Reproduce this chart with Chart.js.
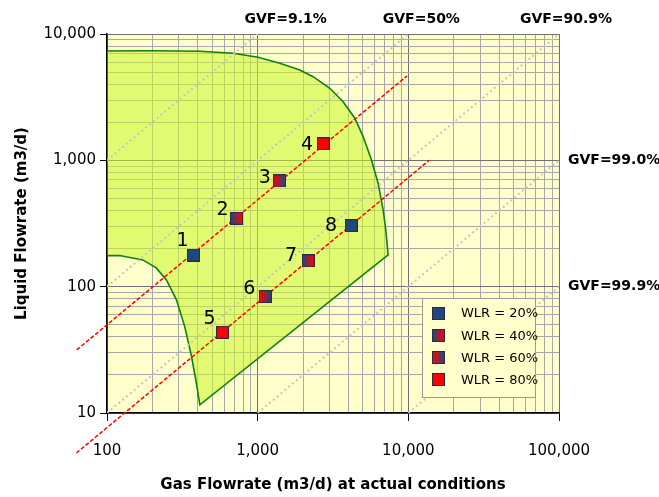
<!DOCTYPE html>
<html>
<head>
<meta charset="utf-8">
<script src="https://cdn.jsdelivr.net/npm/chart.js@4.4.1/dist/chart.umd.min.js"></script>
<style>
    body { margin: 0; background: #ffffff; }
    #wrap { width: 659px; height: 497px; }
</style>
</head>
<body>
<div id="wrap"><canvas id="chart-flowmap" width="659" height="497"></canvas></div>
<script>
// Test points (gas vs liquid flowrate, m3/d) and their water-liquid ratio
const pointIds = ['1', '2', '3', '4', '5', '6', '7', '8'];
const gasFlow = [375, 725, 1400, 2720, 585, 1125, 2160, 4170];
const liquidFlow = [178, 348, 687, 1350, 43.5, 83.5, 160, 304];
const pointWlr = [20, 40, 60, 80, 80, 60, 40, 20];

const wlrLevels = [20, 40, 60, 80];
const wlrLabels = ['WLR = 20%', 'WLR = 40%', 'WLR = 60%', 'WLR = 80%'];

// Operating envelope outline
const envelopeGas = [100, 100, 202, 413, 687, 1006, 1402, 1904, 2333, 3012, 3692, 4415, 5012, 5695,
    6302, 6804, 7090, 7344, 413, 392, 364, 328, 289, 248, 213, 173, 121, 100];
const envelopeLiquid = [176, 7339, 7378, 7297, 7036, 6542, 5862, 5191, 4594, 3719, 2913, 2154, 1540, 1007,
    659, 405, 281, 178.5, 11.6, 17.2, 28.0, 48.3, 78.6, 113.2, 140.1, 162.9, 176.2, 176];

// Red dashed lines through the two test series
const trendAGas = [63, 9780];
const trendALiquid = [31.6, 4650];
const trendBGas = [62.6, 13740];
const trendBLiquid = [4.82, 1000];

// Constant GVF lines (start / end points)
const gvfLabels = ['GVF=9.1%', 'GVF=50%', 'GVF=90.9%', 'GVF=99.0%', 'GVF=99.9%'];
const gvfStartGas = [100, 100, 100, 1000, 10000];
const gvfStartLiquid = [1000, 100, 10, 10, 10];
const gvfEndGas = [1000, 10000, 100000, 100000, 100000];
const gvfEndLiquid = [10000, 10000, 10000, 1000, 100];

// Axis ticks
const xMajorTicks = [100, 1000, 10000, 100000];
const xTickLabels = ['100', '1,000', '10,000', '100,000'];
const yMajorTicks = [10, 100, 1000, 10000];
const yTickLabels = ['10', '100', '1,000', '10,000'];

const FONT = "'DejaVu Sans', sans-serif";
const NAVY = '#1f497d';
const RED = '#ff0000';

// label placement relative to each marker (px)
const labelShift = [[-11, -14], [-14, -8], [-15, -3], [-16, 1], [-13, -13], [-16, -7], [-17, -5], [-20, 0]];
// GVF label anchors: which edge and offset (px)
const gvfLabelPlace = [
    { edge: 'top', dx: 28, dy: -15 },
    { edge: 'top', dx: 13, dy: -15 },
    { edge: 'top', dx: 7, dy: -15 },
    { edge: 'right', dx: 9, dy: 0 },
    { edge: 'right', dx: 9, dy: 0 }
];

function makeMarker(left, right) {
    const c = document.createElement('canvas');
    c.width = 13;
    c.height = 13;
    const g = c.getContext('2d');
    const grad = g.createLinearGradient(1, 0, 12, 0);
    grad.addColorStop(0, left);
    grad.addColorStop(1, right);
    g.fillStyle = grad;
    g.fillRect(0.5, 0.5, 12, 12);
    g.strokeStyle = '#2a2a40';
    g.lineWidth = 1;
    g.strokeRect(0.5, 0.5, 12, 12);
    return c;
}

const markers = {
    20: makeMarker(NAVY, NAVY),
    40: makeMarker(NAVY, RED),
    60: makeMarker(RED, NAVY),
    80: makeMarker(RED, RED)
};

function decadeTicks(majors) {
    const out = [];
    for (let i = 0; i < majors.length; i++) {
        out.push({ value: majors[i] });
        if (i < majors.length - 1) {
            for (let m = 2; m <= 9; m++) out.push({ value: majors[i] * m });
        }
    }
    return out;
}

function toXY(xs, ys) {
    return xs.map((x, i) => ({ x: x, y: ys[i] }));
}

const gvfDatasets = gvfLabels.map((lbl, i) => ({
    label: lbl,
    data: [{ x: gvfStartGas[i], y: gvfStartLiquid[i] }, { x: gvfEndGas[i], y: gvfEndLiquid[i] }],
    borderColor: '#c4c4c4',
    borderWidth: 2,
    borderDash: [2, 3],
    pointRadius: 0,
    fill: false,
    order: 2
}));

const plotBackground = {
    id: 'plotBackground',
    beforeDraw(chart) {
        const { ctx, chartArea: a } = chart;
        ctx.save();
        ctx.fillStyle = '#ffffcc';
        ctx.fillRect(a.left, a.top, a.right - a.left, a.bottom - a.top);
        ctx.restore();
    }
};

const annotations = {
    id: 'annotations',
    afterDraw(chart) {
        const { ctx, chartArea: a, scales } = chart;
        const xs = scales.x, ys = scales.y;
        ctx.save();

        // point numbers
        const meta = chart.getDatasetMeta(chart.data.datasets.length - 1);
        ctx.fillStyle = '#000';
        ctx.font = '19px ' + FONT;
        ctx.textAlign = 'center';
        ctx.textBaseline = 'middle';
        meta.data.forEach((pt, i) => {
            ctx.fillText(pointIds[i], pt.x + labelShift[i][0], pt.y + labelShift[i][1]);
        });

        // GVF labels
        ctx.font = 'bold 14px ' + FONT;
        gvfLabels.forEach((lbl, i) => {
            const p = gvfLabelPlace[i];
            const px = xs.getPixelForValue(gvfEndGas[i]);
            const py = ys.getPixelForValue(gvfEndLiquid[i]);
            if (p.edge === 'top') {
                ctx.textAlign = 'center';
                ctx.fillText(lbl, px + p.dx, a.top + p.dy);
            } else {
                ctx.textAlign = 'left';
                ctx.fillText(lbl, a.right + p.dx, py + p.dy);
            }
        });

        // legend box
        const bx = a.right - 137, by = a.bottom - 115, bw = 113, bh = 99;
        ctx.fillStyle = '#ffffcc';
        ctx.fillRect(bx, by, bw, bh);
        ctx.strokeStyle = '#9a9a9a';
        ctx.lineWidth = 1;
        ctx.strokeRect(bx + 0.5, by + 0.5, bw, bh);
        ctx.font = '13px ' + FONT;
        ctx.textAlign = 'left';
        ctx.fillStyle = '#000';
        wlrLevels.forEach((w, i) => {
            const cy = by + 15 + i * 22.3;
            ctx.drawImage(markers[w], bx + 10, Math.round(cy - 6.5));
            ctx.fillText(wlrLabels[i], bx + 39, cy + 1);
        });
        ctx.restore();
    }
};

const gridColor = (majors) => (c) => majors.includes(c.tick.value) ? '#707070' : '#a8a8a8';
const tickColor = (majors) => (c) => majors.includes(c.tick.value) ? '#000000' : 'rgba(0,0,0,0)';

new Chart(document.getElementById('chart-flowmap'), {
    type: 'line',
    data: {
        datasets: [
            {
                label: 'Envelope',
                data: toXY(envelopeGas, envelopeLiquid),
                borderColor: '#108010',
                borderWidth: 1.6,
                backgroundColor: 'rgba(200, 245, 40, 0.55)',
                fill: 'shape',
                tension: 0,
                pointRadius: 0,
                order: 3
            },
            ...gvfDatasets,
            {
                label: 'Trend A',
                data: toXY(trendAGas, trendALiquid),
                borderColor: RED,
                borderWidth: 1.5,
                borderDash: [4, 2],
                pointRadius: 0,
                fill: false,
                clip: false,
                order: 1
            },
            {
                label: 'Trend B',
                data: toXY(trendBGas, trendBLiquid),
                borderColor: RED,
                borderWidth: 1.5,
                borderDash: [4, 2],
                pointRadius: 0,
                fill: false,
                clip: false,
                order: 1
            },
            {
                label: 'Test points',
                data: toXY(gasFlow, liquidFlow),
                showLine: false,
                pointStyle: (c) => markers[pointWlr[c.dataIndex]],
                pointRadius: 6,
                order: 0
            }
        ]
    },
    options: {
        responsive: false,
        animation: false,
        events: [],
        layout: { padding: { left: 5, top: 34, right: 100, bottom: 0 } },
        plugins: {
            legend: { display: false },
            tooltip: { enabled: false }
        },
        scales: {
            x: {
                type: 'logarithmic',
                min: 100,
                max: 100000,
                afterBuildTicks: (s) => { s.ticks = decadeTicks(xMajorTicks); },
                afterFit: (s) => { s.height = 84; },
                grid: {
                    color: gridColor(xMajorTicks),
                    tickColor: tickColor(xMajorTicks),
                    tickLength: 8,
                    lineWidth: 1
                },
                border: { color: '#000', width: 1.5 },
                ticks: {
                    autoSkip: false,
                    maxRotation: 0,
                    padding: 21,
                    color: '#000',
                    font: { family: FONT, size: 15 },
                    callback: (v) => {
                        const i = xMajorTicks.indexOf(v);
                        return i >= 0 ? xTickLabels[i] : '';
                    }
                },
                title: {
                    display: true,
                    text: 'Gas Flowrate (m3/d) at actual conditions',
                    color: '#000',
                    font: { family: FONT, size: 15, weight: 'bold' },
                    padding: { top: 0, bottom: 3 }
                }
            },
            y: {
                type: 'logarithmic',
                min: 10,
                max: 10000,
                afterBuildTicks: (s) => { s.ticks = decadeTicks(yMajorTicks); },
                afterFit: (s) => { s.width = 102; },
                grid: {
                    color: gridColor(yMajorTicks),
                    tickColor: tickColor(yMajorTicks),
                    tickLength: 7,
                    lineWidth: 1
                },
                border: { color: '#000', width: 1.5 },
                ticks: {
                    autoSkip: false,
                    padding: 4,
                    color: '#000',
                    font: { family: FONT, size: 15 },
                    callback: (v) => {
                        const i = yMajorTicks.indexOf(v);
                        return i >= 0 ? yTickLabels[i] : '';
                    }
                },
                title: {
                    display: true,
                    text: 'Liquid Flowrate (m3/d)',
                    color: '#000',
                    font: { family: FONT, size: 15, weight: 'bold' },
                    padding: { top: 8, bottom: 0 }
                }
            }
        }
    },
    plugins: [plotBackground, annotations]
});
</script>
</body>
</html>
